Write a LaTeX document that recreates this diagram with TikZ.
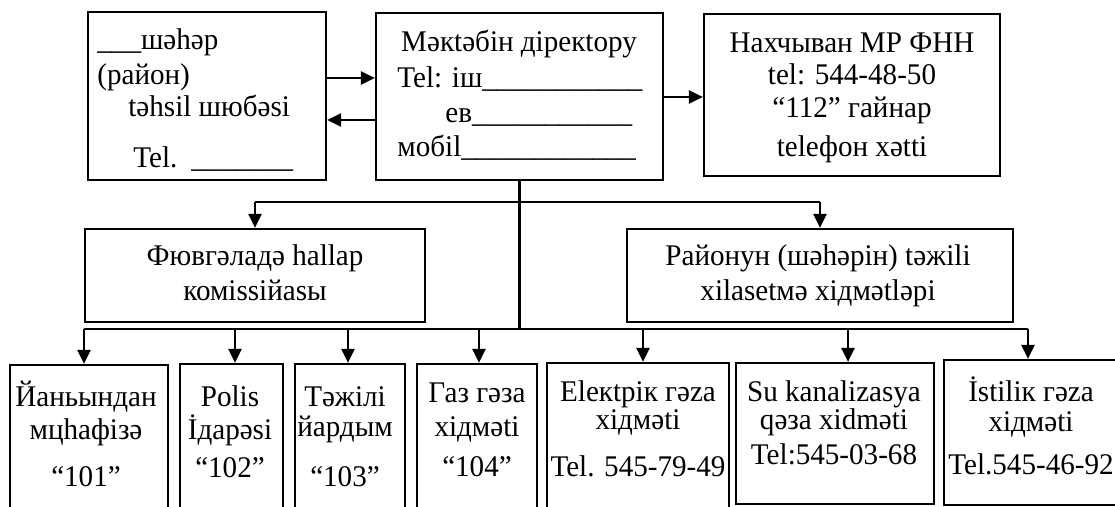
\documentclass[tikz,border=0pt]{standalone}
\usepackage{fontspec}
\setmainfont[FakeStretch=0.97]{Liberation Serif}
\usetikzlibrary{arrows.meta,fit}
\begin{document}
\begin{tikzpicture}[x=0.5pt,y=-0.5pt,
  box/.style={draw, line width=1.1pt, inner sep=0pt},
  conn/.style={line width=1.2pt},
  arr/.style={conn, -{Triangle[length=7pt,width=6.5pt]}},
  txt/.style={anchor=base, inner sep=0pt, font=\fontsize{15}{18}\selectfont},
  txtl/.style={txt, anchor=base west}]
\useasboundingbox (0,0) rectangle (1115,507);
\clip (0,0) rectangle (1115,507);
% boxes
\node[box, fit={(88,12)(326,180)}] (b1) {};
\node[box, fit={(376,13)(663,180)}] (b2) {};
\node[box, fit={(704,14)(1000,176)}] (b3) {};
\node[box, fit={(85,229)(425,322)}] (c1) {};
\node[box, fit={(627,229)(1013,322)}] (c2) {};
\node[box, fit={(10,365)(168,530)}] (d1) {};
\node[box, fit={(180,364)(283,530)}] (d2) {};
\node[box, fit={(295,364)(405,530)}] (d3) {};
\node[box, fit={(417,364)(537,530)}] (d4) {};
\node[box, fit={(547,363)(729,530)}] (d5) {};
\node[box, fit={(736,363)(934,504)}] (d6) {};
\node[box, fit={(944,360)(1130,505)}] (d7) {};
% texts top row
\node[txtl] (t11) at (97,50) {\_\_\_шəhəр};
\node[txtl] (t12) at (97,85) {(район)};
\node[txtl] (t13) at (128,117) {təhsil шюбəsi};
\node[txtl] (t14) at (133,168) {Tel.\hspace{7pt}\_\_\_\_\_\_\_};
\node[txt] (t21) at (519,52) {Мəкtəбін дірекtору};
\node[txtl] (t22) at (397,88) {Tel: іш\_\_\_\_\_\_\_\_\_\_\_};
\node[txtl] (t23) at (445,123) {ев\_\_\_\_\_\_\_\_\_\_\_};
\node[txtl] (t24) at (397,157) {мобіl\_\_\_\_\_\_\_\_\_\_\_\_};
\node[txt] (t31) at (852,53) {Нахчыван МР ФНН};
\node[txt] (t32) at (852,85) {tel: 544-48-50};
\node[txt] (t33) at (852,118) {“112” гайнар};
\node[txt] (t34) at (852,157) {telефон xətti};
% second row
\node[txt] (u11) at (255,266) {Фювгəладə hallap};
\node[txt] (u12) at (255,301) {комissiйasы};
\node[txt] (u21) at (818,266) {Районун (шəhəрін) təжili};
\node[txt] (u22) at (818,301) {xilasetмə xiдмətləpi};
% bottom row
\node[txt] (v11) at (86,407) {Йаньындан};
\node[txt] (v12) at (86,440) {мцhафiзə};
\node[txt] (v13) at (86,487) {“101”};
\node[txt] (v21) at (230,407) {Polis};
\node[txt] (v22) at (230,440) {İдарəsi};
\node[txt] (v23) at (230,478) {“102”};
\node[txt] (v31) at (345,407) {Тəжілі};
\node[txt] (v32) at (345,437) {йардым};
\node[txt] (v33) at (345,487) {“103”};
\node[txt] (v41) at (477,403) {Газ гəза};
\node[txt] (v42) at (477,437) {xiдмəti};
\node[txt] (v43) at (477,477) {“104”};
\node[txt] (v51) at (638,402) {Elекtрiк гəza};
\node[txt] (v52) at (638,430) {xiдмəti};
\node[txt] (v53) at (638,477) {Tel. 545-79-49};
\node[txt] (v61) at (834,402) {Su kanalizasya};
\node[txt] (v62) at (834,430) {qəза xidməti};
\node[txt] (v63) at (834,465) {Tel:545-03-68};
\node[txt] (v71) at (1031,402) {İstiliк гəza};
\node[txt] (v72) at (1031,432) {xiдмəti};
\node[txt] (v73) at (1031,475) {Tel.545-46-92};
% connectors top
\draw[arr] (b1.east |- 0,78) -- (b2.west |- 0,78);
\draw[arr] (b2.west |- 0,120) -- (b1.east |- 0,120);
\draw[arr] (b2.east |- 0,97) -- (b3.west |- 0,97);
% branch
\coordinate (br) at (b2.south |- 0,202);
\coordinate (busL) at (84,329);
\coordinate (busR) at (1028,329);
\draw[conn] (b2.south) -- (b2.south |- busL);
\draw[conn] (c1.north |- br) -- (c2.north |- br);
\draw[arr] (c1.north |- br) -- (c1.north);
\draw[arr] (c2.north |- br) -- (c2.north);
\draw[conn] (busL) -- (busR);
\draw[arr] (busL) -- (busL |- d1.north);
\draw[arr] (235,329) -- (235,0 |- d2.north);
\draw[arr] (348,329) -- (348,0 |- d3.north);
\draw[arr] (479,329) -- (479,0 |- d4.north);
\draw[arr] (643,329) -- (643,0 |- d5.north);
\draw[arr] (848,329) -- (848,0 |- d6.north);
\draw[arr] (busR) -- (busR |- d7.north);
\end{tikzpicture}
\end{document}
